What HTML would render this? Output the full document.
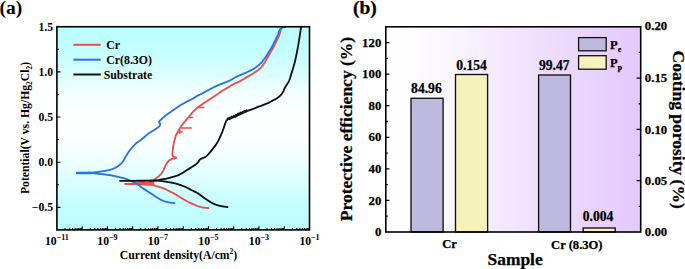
<!DOCTYPE html>
<html><head><meta charset="utf-8"><style>
html,body{margin:0;padding:0;background:#fff;}
svg{display:block;}
.pb text{stroke:#000;stroke-width:0.25px;}
</style></head><body>
<svg width="685" height="269" viewBox="0 0 685 269" font-family='"Liberation Serif", serif' font-weight="bold">
<defs>
<linearGradient id="ga" x1="0" y1="0" x2="0" y2="1">
<stop offset="0" stop-color="#bbfdff"/>
<stop offset="0.064" stop-color="#befdff"/>
<stop offset="0.113" stop-color="#c4feff"/>
<stop offset="0.163" stop-color="#ccfeff"/>
<stop offset="0.212" stop-color="#d5feff"/>
<stop offset="0.31" stop-color="#effffe"/>
<stop offset="0.409" stop-color="#fbffff"/>
<stop offset="0.483" stop-color="#ffffff"/>
<stop offset="0.606" stop-color="#f6ffff"/>
<stop offset="0.759" stop-color="#dbfeff"/>
<stop offset="0.867" stop-color="#c6fdff"/>
<stop offset="1" stop-color="#bbfcff"/>
</linearGradient>
<linearGradient id="gb" x1="0" y1="0" x2="1" y2="0">
<stop offset="0" stop-color="#ffffff"/>
<stop offset="0.1" stop-color="#fdfcff"/>
<stop offset="0.25" stop-color="#f9f6fe"/>
<stop offset="0.4" stop-color="#f5edfd"/>
<stop offset="0.6" stop-color="#eee0fd"/>
<stop offset="0.8" stop-color="#e9d4fd"/>
<stop offset="1" stop-color="#e4c8fe"/>
</linearGradient>
</defs>
<rect width="685" height="269" fill="#fff"/>
<rect x="56.9" y="26.75" width="252.6" height="203.15" fill="url(#ga)"/>
<clipPath id="ca"><rect x="56.9" y="26.75" width="252.6" height="203.15"/></clipPath>
<g clip-path="url(#ca)" fill="none" stroke-linecap="round" stroke-linejoin="round">
<path d="M125.1,184.0 L137.0,184.0" stroke="#ee4c4c" stroke-width="1.85"/>
<path d="M137,182.6 L141,181.9 L153.8,181.6 L153.8,185.4 L141,185 L137,185 Z" fill="#ee4c4c" stroke="#ee4c4c" stroke-width="0.8"/>
<path d="M153.50,180.50 L154.01,180.00 L154.51,179.51 L155.03,179.01 L155.60,178.50 L156.10,178.10 L156.64,177.71 L157.21,177.31 L157.78,176.90 L158.35,176.47 L158.90,176.00 L159.35,175.59 L159.80,175.16 L160.25,174.72 L160.69,174.26 L161.12,173.79 L161.54,173.31 L161.93,172.81 L162.30,172.30 L162.63,171.78 L162.93,171.23 L163.21,170.67 L163.47,170.10 L163.73,169.52 L163.98,168.94 L164.23,168.37 L164.50,167.80 L164.77,167.24 L165.04,166.67 L165.31,166.09 L165.57,165.52 L165.84,164.96 L166.12,164.41 L166.40,163.89 L166.70,163.40 L167.10,162.77 L167.51,162.16 L167.93,161.60 L168.39,161.07 L168.90,160.60 L169.40,160.24 L169.93,159.92 L170.51,159.64 L171.10,159.38 L171.70,159.13 L172.30,158.90 L173.01,158.69 L173.85,158.51 L174.70,158.35 L175.44,158.19 L175.98,158.01 L176.20,157.80 L176.01,157.57 L175.47,157.34 L174.74,157.09 L173.96,156.81 L173.27,156.49 L172.80,156.10 L172.52,155.49 L172.41,154.79 L172.39,154.05 L172.40,153.30 L172.42,152.67 L172.49,152.03 L172.59,151.38 L172.70,150.71 L172.80,150.00 L172.87,149.42 L172.93,148.82 L172.99,148.19 L173.06,147.55 L173.13,146.90 L173.21,146.25 L173.30,145.62 L173.40,145.00 L173.53,144.34 L173.68,143.69 L173.83,143.05 L174.00,142.41 L174.17,141.77 L174.34,141.13 L174.50,140.50 L174.65,139.87 L174.79,139.24 L174.93,138.62 L175.07,137.99 L175.23,137.38 L175.40,136.78 L175.60,136.20 L175.84,135.60 L176.12,135.01 L176.41,134.44 L176.71,133.88 L177.01,133.34 L177.30,132.80 L177.61,132.23 L177.92,131.68 L178.24,131.14 L178.56,130.58 L178.90,130.00 L179.20,129.47 L179.51,128.92 L179.83,128.35 L180.16,127.77 L180.49,127.20 L180.84,126.64 L181.20,126.10 L181.56,125.60 L181.94,125.12 L182.33,124.65 L182.72,124.19 L183.12,123.73 L183.51,123.26 L183.90,122.80 L184.33,122.27 L184.76,121.74 L185.19,121.21 L185.62,120.68 L186.06,120.14 L186.50,119.60 L186.91,119.10 L187.32,118.60 L187.74,118.10 L188.16,117.59 L188.59,117.08 L189.04,116.55 L189.50,116.00 L189.87,115.56 L190.24,115.11 L190.63,114.64 L191.02,114.17 L191.42,113.68 L191.82,113.20 L192.23,112.72 L192.65,112.24 L193.06,111.78 L193.48,111.33 L193.90,110.90 L194.38,110.43 L194.86,109.97 L195.35,109.53 L195.84,109.09 L196.34,108.67 L196.84,108.25 L197.35,107.83 L197.87,107.42 L198.40,107.00 L198.87,106.64 L199.35,106.28 L199.83,105.92 L200.32,105.57 L200.82,105.22 L201.32,104.87 L201.82,104.52 L202.34,104.17 L202.85,103.81 L203.37,103.46 L203.90,103.10 L204.39,102.77 L204.89,102.43 L205.40,102.09 L205.92,101.75 L206.44,101.41 L206.96,101.07 L207.49,100.73 L208.01,100.38 L208.54,100.04 L209.06,99.70 L209.58,99.37 L210.09,99.03 L210.60,98.70 L211.12,98.36 L211.64,98.02 L212.15,97.69 L212.67,97.35 L213.18,97.02 L213.69,96.69 L214.20,96.36 L214.70,96.03 L215.20,95.70 L215.70,95.37 L216.20,95.03 L216.70,94.70 L217.22,94.34 L217.73,93.99 L218.24,93.62 L218.75,93.26 L219.26,92.90 L219.76,92.54 L220.27,92.18 L220.77,91.83 L221.28,91.48 L221.79,91.13 L222.30,90.80 L222.85,90.45 L223.41,90.11 L223.97,89.77 L224.53,89.45 L225.10,89.12 L225.66,88.80 L226.22,88.48 L226.78,88.15 L227.34,87.83 L227.90,87.50 L228.45,87.17 L228.99,86.84 L229.53,86.50 L230.07,86.17 L230.61,85.83 L231.15,85.50 L231.70,85.17 L232.25,84.84 L232.82,84.52 L233.40,84.20 L233.94,83.92 L234.48,83.65 L235.04,83.39 L235.61,83.13 L236.18,82.87 L236.76,82.62 L237.34,82.36 L237.92,82.10 L238.49,81.84 L239.07,81.57 L239.64,81.29 L240.20,81.00 L240.77,80.70 L241.33,80.39 L241.89,80.07 L242.45,79.75 L243.01,79.42 L243.56,79.09 L244.12,78.76 L244.67,78.42 L245.23,78.09 L245.79,77.76 L246.34,77.43 L246.90,77.10 L247.46,76.78 L248.02,76.46 L248.58,76.15 L249.14,75.83 L249.70,75.52 L250.27,75.21 L250.83,74.89 L251.38,74.57 L251.94,74.24 L252.50,73.90 L253.05,73.56 L253.60,73.20 L254.13,72.85 L254.66,72.50 L255.20,72.14 L255.75,71.77 L256.29,71.40 L256.82,71.03 L257.35,70.65 L257.88,70.26 L258.39,69.86 L258.89,69.46 L259.38,69.05 L259.85,68.63 L260.30,68.20 L260.74,67.75 L261.17,67.29 L261.58,66.81 L261.99,66.33 L262.38,65.83 L262.76,65.33 L263.13,64.83 L263.48,64.33 L263.83,63.84 L264.16,63.35 L264.49,62.87 L264.80,62.40 L265.16,61.84 L265.50,61.29 L265.81,60.75 L266.10,60.21 L266.39,59.67 L266.68,59.13 L266.98,58.57 L267.30,58.00 L267.60,57.47 L267.91,56.92 L268.23,56.37 L268.55,55.81 L268.87,55.25 L269.20,54.68 L269.52,54.11 L269.85,53.54 L270.18,52.97 L270.50,52.40 L270.80,51.88 L271.10,51.35 L271.41,50.83 L271.72,50.30 L272.03,49.77 L272.33,49.24 L272.64,48.71 L272.94,48.18 L273.23,47.66 L273.52,47.13 L273.80,46.60 L274.09,46.04 L274.37,45.48 L274.65,44.91 L274.92,44.35 L275.19,43.78 L275.45,43.22 L275.72,42.66 L275.98,42.10 L276.24,41.55 L276.50,41.00 L276.78,40.43 L277.06,39.87 L277.34,39.32 L277.62,38.77 L277.89,38.22 L278.16,37.67 L278.42,37.12 L278.67,36.56 L278.90,36.00 L279.14,35.38 L279.36,34.75 L279.58,34.12 L279.78,33.48 L279.97,32.85 L280.15,32.23 L280.33,31.61 L280.50,31.00 L280.67,30.38 L280.82,29.78 L280.96,29.18 L281.09,28.58 L281.23,27.99 L281.36,27.40 L281.50,26.80" stroke="#ee4c4c" stroke-width="1.85"/>
<path d="M153.80,185.30 L154.39,185.48 L154.98,185.66 L155.57,185.84 L156.16,186.03 L156.76,186.21 L157.37,186.40 L158.00,186.60 L158.59,186.78 L159.19,186.96 L159.82,187.15 L160.45,187.33 L161.08,187.53 L161.72,187.73 L162.35,187.94 L162.98,188.16 L163.60,188.40 L164.16,188.63 L164.71,188.88 L165.26,189.14 L165.81,189.41 L166.36,189.69 L166.91,189.97 L167.45,190.26 L168.00,190.54 L168.55,190.82 L169.10,191.10 L169.66,191.37 L170.22,191.65 L170.78,191.92 L171.34,192.19 L171.91,192.46 L172.47,192.74 L173.03,193.02 L173.59,193.31 L174.14,193.60 L174.70,193.90 L175.27,194.22 L175.83,194.55 L176.39,194.88 L176.95,195.23 L177.51,195.57 L178.06,195.92 L178.62,196.27 L179.18,196.62 L179.74,196.96 L180.30,197.30 L180.86,197.64 L181.42,197.97 L181.98,198.31 L182.54,198.65 L183.10,198.98 L183.66,199.32 L184.22,199.64 L184.78,199.97 L185.34,200.29 L185.90,200.60 L186.45,200.90 L186.99,201.19 L187.53,201.48 L188.07,201.76 L188.61,202.04 L189.15,202.31 L189.70,202.59 L190.26,202.86 L190.83,203.13 L191.40,203.40 L191.98,203.67 L192.57,203.94 L193.17,204.22 L193.78,204.49 L194.40,204.77 L195.01,205.03 L195.63,205.29 L196.24,205.54 L196.84,205.78 L197.43,206.00 L198.00,206.20 L198.65,206.41 L199.28,206.61 L199.90,206.79 L200.52,206.96 L201.13,207.11 L201.74,207.25 L202.37,207.38 L203.00,207.50 L203.59,207.60 L204.18,207.68 L204.78,207.75 L205.38,207.82 L205.98,207.87 L206.59,207.93 L207.19,207.98 L207.80,208.04 L208.40,208.10" stroke="#ee4c4c" stroke-width="1.85"/>
<path d="M198.9,107.6 L203.9,107.6" stroke="#ee4c4c" stroke-width="1.5"/>
<path d="M188.9,117.6 L192.3,117.6" stroke="#ee4c4c" stroke-width="1.5"/>
<path d="M181.7,128.1 L191.2,128.1" stroke="#ee4c4c" stroke-width="1.5"/>
<path d="M90.00,173.00 L90.63,173.05 L91.25,173.10 L91.88,173.14 L92.50,173.19 L93.13,173.24 L93.75,173.29 L94.38,173.34 L95.00,173.40 L95.62,173.47 L96.24,173.54 L96.86,173.61 L97.47,173.69 L98.09,173.77 L98.72,173.85 L99.35,173.93 L100.00,174.00 L100.58,174.06 L101.16,174.12 L101.76,174.17 L102.36,174.23 L102.97,174.29 L103.57,174.34 L104.18,174.40 L104.79,174.46 L105.40,174.53 L106.00,174.60 L106.60,174.68 L107.19,174.75 L107.79,174.83 L108.38,174.91 L108.97,175.00 L109.57,175.09 L110.17,175.18 L110.77,175.28 L111.38,175.39 L112.00,175.50 L112.57,175.61 L113.16,175.73 L113.75,175.85 L114.35,175.98 L114.95,176.12 L115.56,176.26 L116.16,176.40 L116.76,176.54 L117.36,176.68 L117.95,176.82 L118.53,176.96 L119.10,177.10 L119.71,177.25 L120.32,177.39 L120.92,177.53 L121.52,177.67 L122.11,177.81 L122.70,177.96 L123.28,178.11 L123.86,178.26 L124.43,178.43 L125.00,178.60 L125.60,178.79 L126.19,178.99 L126.78,179.20 L127.36,179.41 L127.93,179.63 L128.51,179.86 L129.10,180.10 L129.69,180.34 L130.30,180.60 L130.83,180.82 L131.38,181.06 L131.94,181.29 L132.51,181.53 L133.09,181.78 L133.66,182.04 L134.23,182.30 L134.80,182.57 L135.35,182.84 L135.89,183.12 L136.40,183.41 L136.90,183.70 L137.45,184.06 L137.98,184.43 L138.48,184.82 L138.97,185.22 L139.45,185.62 L139.93,186.02 L140.40,186.42 L140.89,186.81 L141.40,187.20 L141.93,187.59 L142.47,187.97 L143.01,188.36 L143.56,188.74 L144.10,189.12 L144.65,189.50 L145.20,189.87 L145.75,190.24 L146.30,190.60 L146.83,190.94 L147.36,191.28 L147.89,191.61 L148.41,191.93 L148.94,192.26 L149.47,192.58 L150.01,192.91 L150.55,193.25 L151.10,193.60 L151.59,193.92 L152.09,194.25 L152.60,194.59 L153.10,194.93 L153.61,195.28 L154.12,195.63 L154.64,195.97 L155.15,196.32 L155.67,196.65 L156.18,196.98 L156.70,197.30 L157.25,197.64 L157.81,197.97 L158.36,198.31 L158.92,198.64 L159.48,198.96 L160.04,199.27 L160.60,199.58 L161.16,199.87 L161.73,200.14 L162.30,200.40 L162.91,200.66 L163.52,200.89 L164.13,201.12 L164.74,201.33 L165.36,201.53 L165.98,201.71 L166.61,201.88 L167.25,202.05 L167.90,202.20 L168.48,202.32 L169.06,202.43 L169.65,202.52 L170.25,202.60 L170.86,202.68 L171.46,202.75 L172.07,202.82 L172.68,202.88 L173.29,202.95 L173.90,203.02 L174.50,203.10" stroke="#2a74dc" stroke-width="1.85"/>
<path d="M77.00,173.00 L77.62,172.99 L78.24,172.98 L78.87,172.97 L79.51,172.96 L80.15,172.96 L80.79,172.95 L81.43,172.94 L82.07,172.93 L82.71,172.92 L83.34,172.92 L83.96,172.91 L84.58,172.90 L85.18,172.88 L85.78,172.87 L86.36,172.86 L86.92,172.84 L87.47,172.82 L88.00,172.80 L88.67,172.77 L89.32,172.74 L89.93,172.71 L90.53,172.67 L91.11,172.63 L91.69,172.59 L92.26,172.55 L92.83,172.50 L93.41,172.45 L94.00,172.40 L94.60,172.34 L95.20,172.28 L95.80,172.22 L96.40,172.16 L97.00,172.09 L97.60,172.02 L98.20,171.94 L98.80,171.86 L99.40,171.78 L100.00,171.70 L100.61,171.61 L101.22,171.52 L101.84,171.43 L102.46,171.33 L103.08,171.23 L103.69,171.12 L104.29,171.02 L104.88,170.91 L105.45,170.81 L106.00,170.70 L106.71,170.56 L107.37,170.44 L108.02,170.31 L108.66,170.16 L109.31,170.00 L110.00,169.80 L110.53,169.63 L111.08,169.46 L111.65,169.26 L112.22,169.06 L112.80,168.84 L113.39,168.62 L113.96,168.38 L114.52,168.13 L115.07,167.87 L115.60,167.60 L116.14,167.30 L116.68,166.98 L117.21,166.65 L117.73,166.30 L118.24,165.95 L118.73,165.59 L119.21,165.22 L119.67,164.86 L120.10,164.50 L120.61,164.05 L121.09,163.61 L121.55,163.16 L121.98,162.70 L122.39,162.21 L122.80,161.70 L123.16,161.19 L123.51,160.65 L123.83,160.09 L124.15,159.52 L124.47,158.94 L124.78,158.37 L125.10,157.80 L125.41,157.24 L125.72,156.68 L126.02,156.12 L126.33,155.56 L126.64,155.01 L126.96,154.45 L127.30,153.90 L127.62,153.40 L127.95,152.91 L128.29,152.42 L128.64,151.93 L129.00,151.45 L129.36,150.96 L129.73,150.48 L130.10,150.00 L130.49,149.50 L130.89,149.00 L131.30,148.51 L131.71,148.01 L132.13,147.52 L132.55,147.04 L132.97,146.56 L133.40,146.10 L133.87,145.60 L134.35,145.10 L134.83,144.61 L135.32,144.13 L135.81,143.66 L136.30,143.22 L136.80,142.80 L137.33,142.39 L137.88,142.01 L138.42,141.65 L138.96,141.31 L139.49,140.96 L140.00,140.60 L140.51,140.22 L140.97,139.85 L141.44,139.47 L141.93,139.07 L142.50,138.60 L142.88,138.29 L143.28,137.94 L143.71,137.57 L144.16,137.18 L144.64,136.77 L145.12,136.35 L145.62,135.92 L146.12,135.48 L146.63,135.05 L147.14,134.63 L147.64,134.21 L148.14,133.82 L148.63,133.45 L149.10,133.10 L149.67,132.71 L150.25,132.33 L150.83,131.98 L151.40,131.64 L151.98,131.31 L152.55,130.99 L153.11,130.67 L153.65,130.35 L154.19,130.03 L154.70,129.70 L155.24,129.35 L155.78,129.00 L156.31,128.65 L156.82,128.30 L157.31,127.95 L157.78,127.60 L158.21,127.25 L158.60,126.90 L159.17,126.35 L159.69,125.80 L160.09,125.24 L160.30,124.70 L160.24,124.11 L159.99,123.53 L159.70,123.00 L159.21,122.44 L158.90,121.90 L159.13,121.41 L159.66,120.89 L160.30,120.30 L160.65,119.95 L161.04,119.57 L161.48,119.17 L161.94,118.74 L162.43,118.30 L162.94,117.85 L163.45,117.40 L163.97,116.95 L164.49,116.52 L165.00,116.10 L165.48,115.71 L165.98,115.33 L166.48,114.96 L166.99,114.58 L167.50,114.21 L168.02,113.84 L168.54,113.47 L169.06,113.10 L169.57,112.73 L170.09,112.37 L170.60,112.00 L171.10,111.64 L171.60,111.28 L172.10,110.92 L172.60,110.56 L173.09,110.20 L173.59,109.85 L174.09,109.49 L174.59,109.14 L175.09,108.79 L175.59,108.44 L176.10,108.10 L176.60,107.76 L177.11,107.42 L177.61,107.09 L178.12,106.75 L178.63,106.42 L179.14,106.09 L179.65,105.76 L180.16,105.44 L180.67,105.12 L181.19,104.81 L181.70,104.50 L182.26,104.17 L182.81,103.85 L183.37,103.53 L183.93,103.22 L184.49,102.91 L185.05,102.60 L185.61,102.30 L186.17,102.00 L186.74,101.70 L187.30,101.40 L187.86,101.11 L188.42,100.83 L188.98,100.56 L189.54,100.29 L190.11,100.02 L190.67,99.75 L191.23,99.47 L191.79,99.19 L192.35,98.90 L192.90,98.60 L193.47,98.27 L194.06,97.91 L194.66,97.54 L195.27,97.15 L195.86,96.77 L196.44,96.39 L196.99,96.04 L197.51,95.72 L197.98,95.43 L198.40,95.20 L199.20,94.84 L200.00,94.50 L200.42,94.29 L200.91,94.05 L201.44,93.78 L202.00,93.49 L202.60,93.19 L203.20,92.87 L203.82,92.54 L204.43,92.22 L205.03,91.90 L205.60,91.60 L206.15,91.30 L206.70,91.00 L207.25,90.70 L207.80,90.40 L208.35,90.09 L208.90,89.79 L209.45,89.49 L209.99,89.19 L210.55,88.89 L211.10,88.60 L211.66,88.31 L212.21,88.02 L212.77,87.73 L213.33,87.44 L213.89,87.15 L214.45,86.87 L215.01,86.59 L215.57,86.32 L216.13,86.06 L216.70,85.80 L217.26,85.56 L217.81,85.33 L218.37,85.10 L218.93,84.88 L219.49,84.67 L220.05,84.45 L220.62,84.24 L221.18,84.03 L221.74,83.82 L222.30,83.60 L222.87,83.38 L223.45,83.16 L224.03,82.94 L224.62,82.72 L225.20,82.50 L225.77,82.28 L226.34,82.06 L226.88,81.84 L227.40,81.62 L227.90,81.40 L228.51,81.12 L229.07,80.84 L229.61,80.56 L230.14,80.28 L230.66,79.99 L231.20,79.70 L231.75,79.39 L232.30,79.08 L232.84,78.75 L233.39,78.43 L233.94,78.11 L234.50,77.80 L235.06,77.49 L235.62,77.19 L236.18,76.89 L236.76,76.60 L237.36,76.30 L238.00,76.00 L238.50,75.77 L239.03,75.55 L239.58,75.32 L240.14,75.10 L240.72,74.87 L241.30,74.64 L241.88,74.41 L242.46,74.17 L243.04,73.94 L243.60,73.70 L244.15,73.46 L244.71,73.22 L245.26,72.98 L245.81,72.73 L246.36,72.49 L246.91,72.24 L247.46,71.99 L248.00,71.73 L248.55,71.47 L249.10,71.20 L249.66,70.92 L250.23,70.65 L250.79,70.37 L251.36,70.09 L251.92,69.80 L252.49,69.51 L253.05,69.20 L253.60,68.88 L254.15,68.55 L254.70,68.20 L255.23,67.85 L255.76,67.48 L256.28,67.10 L256.81,66.71 L257.33,66.30 L257.85,65.89 L258.36,65.47 L258.86,65.04 L259.35,64.60 L259.83,64.15 L260.30,63.70 L260.75,63.24 L261.19,62.77 L261.62,62.28 L262.05,61.79 L262.46,61.29 L262.86,60.78 L263.26,60.27 L263.65,59.75 L264.04,59.23 L264.42,58.72 L264.80,58.20 L265.16,57.69 L265.52,57.19 L265.86,56.68 L266.20,56.16 L266.53,55.65 L266.86,55.13 L267.19,54.61 L267.52,54.09 L267.84,53.56 L268.17,53.03 L268.50,52.50 L268.81,51.99 L269.13,51.48 L269.45,50.97 L269.77,50.45 L270.09,49.93 L270.40,49.41 L270.72,48.89 L271.02,48.36 L271.33,47.84 L271.63,47.33 L271.92,46.81 L272.20,46.30 L272.51,45.73 L272.80,45.17 L273.09,44.61 L273.36,44.05 L273.64,43.49 L273.91,42.93 L274.18,42.37 L274.45,41.82 L274.72,41.26 L275.00,40.70 L275.28,40.14 L275.58,39.57 L275.87,39.00 L276.17,38.44 L276.46,37.87 L276.75,37.31 L277.04,36.74 L277.31,36.19 L277.56,35.64 L277.80,35.10 L278.07,34.42 L278.31,33.73 L278.52,33.04 L278.73,32.36 L278.94,31.72 L279.16,31.13 L279.40,30.60 L279.80,29.86 L280.22,29.24 L280.70,28.70 L281.24,28.26 L281.84,27.89 L282.50,27.60 L283.13,27.42 L283.81,27.30 L284.51,27.21 L285.20,27.10" stroke="#2a74dc" stroke-width="1.85"/>
<path d="M77,173 L91,172.9" stroke="#2a74dc" stroke-width="2.5"/>
<path d="M120.00,180.80 L120.60,180.80 L121.20,180.80 L121.80,180.80 L122.40,180.80 L123.00,180.80 L123.60,180.80 L124.20,180.81 L124.80,180.81 L125.40,180.81 L126.00,180.81 L126.60,180.81 L127.20,180.81 L127.80,180.81 L128.40,180.81 L129.00,180.81 L129.60,180.81 L130.20,180.81 L130.80,180.81 L131.40,180.81 L132.00,180.81 L132.60,180.81 L133.20,180.81 L133.80,180.81 L134.40,180.80 L135.00,180.80 L135.60,180.80 L136.21,180.79 L136.83,180.79 L137.45,180.78 L138.07,180.78 L138.70,180.77 L139.33,180.77 L139.96,180.76 L140.59,180.75 L141.22,180.75 L141.85,180.74 L142.48,180.73 L143.10,180.72 L143.72,180.72 L144.34,180.71 L144.95,180.70 L145.55,180.69 L146.14,180.68 L146.72,180.67 L147.30,180.66 L147.86,180.65 L148.42,180.64 L148.96,180.62 L149.49,180.61 L150.00,180.60 L150.71,180.58 L151.41,180.57 L152.09,180.56 L152.77,180.56 L153.43,180.55 L154.08,180.54 L154.70,180.53 L155.31,180.51 L155.90,180.48 L156.46,180.45 L157.00,180.41 L157.52,180.36 L158.00,180.30 L158.70,180.17 L159.30,180.01 L159.86,179.84 L160.44,179.66 L161.10,179.50 L161.65,179.40 L162.23,179.30 L162.83,179.21 L163.46,179.12 L164.10,179.04 L164.75,178.94 L165.41,178.84 L166.06,178.73 L166.70,178.60 L167.31,178.46 L167.94,178.31 L168.57,178.15 L169.20,177.98 L169.83,177.80 L170.46,177.62 L171.09,177.44 L171.71,177.26 L172.31,177.08 L172.90,176.90 L173.54,176.71 L174.17,176.52 L174.79,176.34 L175.40,176.16 L176.00,175.96 L176.60,175.76 L177.20,175.54 L177.80,175.30 L178.35,175.06 L178.90,174.81 L179.45,174.55 L180.00,174.28 L180.54,174.00 L181.08,173.71 L181.62,173.41 L182.16,173.11 L182.70,172.80 L183.25,172.47 L183.80,172.13 L184.34,171.77 L184.89,171.41 L185.43,171.04 L185.97,170.68 L186.51,170.31 L187.05,169.95 L187.60,169.60 L188.15,169.26 L188.70,168.92 L189.25,168.59 L189.80,168.26 L190.36,167.93 L190.90,167.60 L191.45,167.27 L191.98,166.94 L192.50,166.60 L193.05,166.24 L193.60,165.88 L194.15,165.51 L194.69,165.14 L195.21,164.77 L195.71,164.41 L196.18,164.05 L196.60,163.70 L197.16,163.19 L197.65,162.70 L198.10,162.21 L198.50,161.70 L198.88,161.05 L199.20,160.38 L199.60,159.80 L200.15,159.35 L200.78,158.98 L201.50,158.60 L201.99,158.37 L202.54,158.14 L203.12,157.92 L203.73,157.69 L204.32,157.45 L204.89,157.19 L205.40,156.90 L205.97,156.51 L206.48,156.09 L206.97,155.64 L207.47,155.15 L208.00,154.60 L208.37,154.22 L208.75,153.80 L209.14,153.37 L209.54,152.91 L209.95,152.43 L210.36,151.94 L210.77,151.43 L211.19,150.93 L211.60,150.41 L212.00,149.90 L212.40,149.40 L212.78,148.91 L213.17,148.42 L213.56,147.92 L213.95,147.42 L214.33,146.91 L214.72,146.40 L215.10,145.88 L215.47,145.36 L215.84,144.83 L216.21,144.29 L216.56,143.75 L216.90,143.20 L217.22,142.66 L217.53,142.12 L217.84,141.56 L218.13,141.00 L218.43,140.43 L218.71,139.86 L218.99,139.28 L219.27,138.70 L219.54,138.12 L219.81,137.54 L220.08,136.96 L220.34,136.38 L220.60,135.80 L220.85,135.23 L221.10,134.66 L221.35,134.09 L221.59,133.52 L221.83,132.94 L222.06,132.37 L222.30,131.80 L222.52,131.22 L222.75,130.65 L222.96,130.08 L223.18,129.52 L223.39,128.96 L223.60,128.40 L223.82,127.78 L224.03,127.15 L224.23,126.50 L224.43,125.86 L224.62,125.22 L224.81,124.59 L225.00,123.98 L225.20,123.40 L225.39,122.85 L225.59,122.35 L225.80,121.90 L226.14,121.23 L226.47,120.66 L226.84,120.15 L227.30,119.70 L227.80,119.35 L228.37,119.06 L228.99,118.81 L229.64,118.56 L230.30,118.30 L230.89,118.06 L231.52,117.81 L232.17,117.57 L232.82,117.33 L233.48,117.08 L234.11,116.84 L234.70,116.60 L235.34,116.33 L235.93,116.07 L236.51,115.80 L237.12,115.52 L237.80,115.20 L238.26,114.98 L238.75,114.75 L239.27,114.49 L239.80,114.23 L240.36,113.95 L240.92,113.68 L241.49,113.40 L242.07,113.12 L242.64,112.84 L243.21,112.58 L243.76,112.33 L244.30,112.10 L244.88,111.86 L245.46,111.63 L246.04,111.41 L246.62,111.20 L247.19,110.99 L247.76,110.79 L248.33,110.59 L248.89,110.40 L249.45,110.20 L250.00,110.00 L250.65,109.77 L251.30,109.54 L251.96,109.31 L252.60,109.08 L253.24,108.86 L253.85,108.64 L254.44,108.42 L255.00,108.20 L255.64,107.94 L256.22,107.68 L256.78,107.42 L257.36,107.17 L258.00,106.90 L258.55,106.68 L259.14,106.47 L259.75,106.25 L260.37,106.02 L261.01,105.80 L261.65,105.57 L262.28,105.34 L262.90,105.10 L263.51,104.86 L264.13,104.62 L264.74,104.38 L265.36,104.14 L265.97,103.89 L266.58,103.64 L267.19,103.37 L267.80,103.10 L268.35,102.84 L268.90,102.58 L269.44,102.31 L269.99,102.04 L270.53,101.75 L271.07,101.47 L271.62,101.18 L272.16,100.89 L272.70,100.60 L273.25,100.30 L273.82,100.00 L274.39,99.70 L274.95,99.40 L275.51,99.09 L276.07,98.78 L276.60,98.46 L277.11,98.13 L277.60,97.80 L278.12,97.42 L278.61,97.05 L279.08,96.66 L279.54,96.27 L279.97,95.86 L280.39,95.44 L280.80,95.00 L281.19,94.54 L281.56,94.06 L281.91,93.57 L282.25,93.07 L282.58,92.55 L282.89,92.03 L283.20,91.50 L283.49,90.95 L283.76,90.39 L284.00,89.82 L284.25,89.24 L284.50,88.64 L284.78,88.03 L285.10,87.40 L285.37,86.91 L285.67,86.41 L285.99,85.89 L286.33,85.37 L286.68,84.84 L287.04,84.30 L287.39,83.75 L287.74,83.19 L288.08,82.63 L288.41,82.06 L288.72,81.48 L289.00,80.90 L289.25,80.33 L289.49,79.74 L289.71,79.14 L289.93,78.53 L290.13,77.91 L290.33,77.29 L290.51,76.66 L290.70,76.03 L290.88,75.41 L291.06,74.79 L291.24,74.19 L291.42,73.59 L291.60,73.00 L291.80,72.39 L291.99,71.78 L292.18,71.18 L292.36,70.59 L292.55,70.01 L292.73,69.42 L292.91,68.84 L293.08,68.26 L293.26,67.68 L293.43,67.09 L293.60,66.50 L293.76,65.92 L293.92,65.35 L294.08,64.79 L294.23,64.23 L294.38,63.67 L294.53,63.11 L294.68,62.53 L294.83,61.94 L294.99,61.32 L295.14,60.68 L295.30,60.00 L295.42,59.48 L295.54,58.94 L295.66,58.39 L295.79,57.81 L295.92,57.22 L296.04,56.62 L296.17,56.00 L296.30,55.38 L296.43,54.74 L296.56,54.11 L296.69,53.46 L296.82,52.82 L296.95,52.17 L297.08,51.52 L297.20,50.88 L297.33,50.24 L297.45,49.61 L297.56,48.99 L297.68,48.38 L297.79,47.78 L297.90,47.20 L298.02,46.57 L298.13,45.95 L298.24,45.33 L298.34,44.72 L298.45,44.12 L298.55,43.52 L298.65,42.92 L298.75,42.33 L298.85,41.74 L298.94,41.15 L299.04,40.56 L299.13,39.97 L299.23,39.38 L299.32,38.79 L299.41,38.20 L299.51,37.60 L299.60,37.00 L299.69,36.40 L299.79,35.79 L299.88,35.19 L299.97,34.58 L300.06,33.98 L300.14,33.37 L300.23,32.76 L300.32,32.16 L300.41,31.55 L300.49,30.94 L300.58,30.34 L300.67,29.73 L300.75,29.12 L300.84,28.52 L300.92,27.91 L301.01,27.31 L301.10,26.70" stroke="#111" stroke-width="1.85"/>
<path d="M150.00,180.70 L150.62,180.70 L151.25,180.69 L151.88,180.68 L152.51,180.67 L153.14,180.66 L153.77,180.66 L154.40,180.65 L155.03,180.64 L155.64,180.64 L156.25,180.65 L156.85,180.66 L157.43,180.67 L158.00,180.70 L158.67,180.74 L159.31,180.79 L159.94,180.85 L160.56,180.91 L161.17,180.98 L161.78,181.06 L162.38,181.14 L162.99,181.22 L163.60,181.30 L164.21,181.39 L164.83,181.48 L165.44,181.57 L166.05,181.67 L166.66,181.77 L167.27,181.88 L167.88,181.98 L168.49,182.09 L169.10,182.20 L169.72,182.31 L170.34,182.42 L170.97,182.53 L171.59,182.64 L172.21,182.76 L172.84,182.88 L173.46,183.01 L174.08,183.15 L174.70,183.30 L175.33,183.46 L175.95,183.63 L176.57,183.81 L177.20,183.99 L177.82,184.18 L178.44,184.38 L179.06,184.58 L179.68,184.79 L180.30,185.00 L180.86,185.20 L181.43,185.40 L181.99,185.61 L182.55,185.82 L183.12,186.03 L183.68,186.26 L184.23,186.48 L184.79,186.72 L185.35,186.96 L185.90,187.20 L186.45,187.46 L187.00,187.72 L187.55,187.99 L188.09,188.26 L188.63,188.55 L189.17,188.83 L189.72,189.12 L190.27,189.41 L190.83,189.71 L191.40,190.00 L191.93,190.27 L192.47,190.53 L193.01,190.79 L193.56,191.06 L194.11,191.33 L194.67,191.60 L195.23,191.87 L195.78,192.16 L196.34,192.45 L196.90,192.75 L197.45,193.07 L198.00,193.40 L198.51,193.72 L199.01,194.06 L199.51,194.42 L200.01,194.78 L200.51,195.16 L201.01,195.54 L201.51,195.93 L202.01,196.32 L202.51,196.71 L203.02,197.10 L203.53,197.49 L204.05,197.87 L204.57,198.24 L205.10,198.60 L205.60,198.93 L206.10,199.26 L206.61,199.60 L207.13,199.94 L207.65,200.28 L208.17,200.62 L208.70,200.95 L209.23,201.28 L209.76,201.61 L210.29,201.93 L210.81,202.24 L211.34,202.54 L211.86,202.82 L212.38,203.10 L212.89,203.36 L213.40,203.60 L214.02,203.88 L214.63,204.14 L215.24,204.39 L215.84,204.62 L216.44,204.83 L217.04,205.03 L217.64,205.22 L218.24,205.40 L218.85,205.57 L219.47,205.74 L220.10,205.90 L220.70,206.04 L221.32,206.17 L221.93,206.28 L222.56,206.39 L223.18,206.49 L223.81,206.58 L224.45,206.66 L225.08,206.74 L225.71,206.83 L226.34,206.91 L226.97,207.00 L227.60,207.10" stroke="#111" stroke-width="1.85"/>
<path d="M227.8,118.6 L229.2,119.1 L229.6,117.7 L230.9,118.3 L231.6,116.7 L233.0,117.2 L233.8,116.1 L235.5,116.6 L236.1,114.9 L237.6,115.2 L238.2,113.6 L239.8,114.4 L240.4,112.7 L242.1,113.4 L242.6,111.7 L244.2,112.1 L244.6,110.7 L246.1,111.5 L246.7,110.4" stroke="#111" stroke-width="2.1"/>
<path d="M178.5,130 L182.5,131.8 L179.5,133.5 Z" fill="#ee4c4c" stroke="#ee4c4c" stroke-width="0.8"/>
</g>
<rect x="56.9" y="26.75" width="252.6" height="203.15" fill="none" stroke="#000" stroke-width="1.6"/>
<path d="M65.00,229.9 v-2 M69.45,229.9 v-2 M72.61,229.9 v-2 M75.06,229.9 v-2 M77.06,229.9 v-2 M78.75,229.9 v-2 M80.21,229.9 v-2 M81.50,229.9 v-2 M82.16,229.9 v-3.6 M90.26,229.9 v-2 M94.71,229.9 v-2 M97.87,229.9 v-2 M100.32,229.9 v-2 M102.32,229.9 v-2 M104.01,229.9 v-2 M105.47,229.9 v-2 M106.76,229.9 v-2 M107.42,229.9 v-3.6 M115.52,229.9 v-2 M119.97,229.9 v-2 M123.13,229.9 v-2 M125.58,229.9 v-2 M127.58,229.9 v-2 M129.27,229.9 v-2 M130.73,229.9 v-2 M132.02,229.9 v-2 M132.68,229.9 v-3.6 M140.78,229.9 v-2 M145.23,229.9 v-2 M148.39,229.9 v-2 M150.84,229.9 v-2 M152.84,229.9 v-2 M154.53,229.9 v-2 M155.99,229.9 v-2 M157.28,229.9 v-2 M157.94,229.9 v-3.6 M166.04,229.9 v-2 M170.49,229.9 v-2 M173.65,229.9 v-2 M176.10,229.9 v-2 M178.10,229.9 v-2 M179.79,229.9 v-2 M181.25,229.9 v-2 M182.54,229.9 v-2 M183.20,229.9 v-3.6 M191.30,229.9 v-2 M195.75,229.9 v-2 M198.91,229.9 v-2 M201.36,229.9 v-2 M203.36,229.9 v-2 M205.05,229.9 v-2 M206.51,229.9 v-2 M207.80,229.9 v-2 M208.46,229.9 v-3.6 M216.56,229.9 v-2 M221.01,229.9 v-2 M224.17,229.9 v-2 M226.62,229.9 v-2 M228.62,229.9 v-2 M230.31,229.9 v-2 M231.77,229.9 v-2 M233.06,229.9 v-2 M233.72,229.9 v-3.6 M241.82,229.9 v-2 M246.27,229.9 v-2 M249.43,229.9 v-2 M251.88,229.9 v-2 M253.88,229.9 v-2 M255.57,229.9 v-2 M257.03,229.9 v-2 M258.32,229.9 v-2 M258.98,229.9 v-3.6 M267.08,229.9 v-2 M271.53,229.9 v-2 M274.69,229.9 v-2 M277.14,229.9 v-2 M279.14,229.9 v-2 M280.83,229.9 v-2 M282.29,229.9 v-2 M283.58,229.9 v-2 M284.24,229.9 v-3.6 M292.34,229.9 v-2 M296.79,229.9 v-2 M299.95,229.9 v-2 M302.40,229.9 v-2 M304.40,229.9 v-2 M306.09,229.9 v-2 M307.55,229.9 v-2 M308.84,229.9 v-2 M56.9,207.33 h3.6 M56.9,184.76 h2 M56.9,162.18 h3.6 M56.9,139.61 h2 M56.9,117.04 h3.6 M56.9,94.47 h2 M56.9,71.89 h3.6 M56.9,49.32 h2" stroke="#000" stroke-width="1.1" fill="none"/>
<text x="53" y="30.65" font-size="11.7" text-anchor="end">1.5</text>
<text x="53" y="75.79" font-size="11.7" text-anchor="end">1.0</text>
<text x="53" y="120.94" font-size="11.7" text-anchor="end">0.5</text>
<text x="53" y="166.08" font-size="11.7" text-anchor="end">0.0</text>
<text x="53" y="211.23" font-size="11.7" text-anchor="end">−0.5</text>
<text x="56.90" y="244.6" font-size="11.7" text-anchor="middle">10<tspan font-size="8" dy="-4.6">−11</tspan></text>
<text x="107.42" y="244.6" font-size="11.7" text-anchor="middle">10<tspan font-size="8" dy="-4.6">−9</tspan></text>
<text x="157.94" y="244.6" font-size="11.7" text-anchor="middle">10<tspan font-size="8" dy="-4.6">−7</tspan></text>
<text x="208.46" y="244.6" font-size="11.7" text-anchor="middle">10<tspan font-size="8" dy="-4.6">−5</tspan></text>
<text x="258.98" y="244.6" font-size="11.7" text-anchor="middle">10<tspan font-size="8" dy="-4.6">−3</tspan></text>
<text x="309.50" y="244.6" font-size="11.7" text-anchor="middle">10<tspan font-size="8" dy="-4.6">−1</tspan></text>
<text x="178.5" y="258.6" font-size="11.7" text-anchor="middle">Current density(A/cm<tspan font-size="7.5" dy="-4.5">2</tspan><tspan dy="4.5">)</tspan></text>
<text transform="translate(28.6,128) rotate(-90)" font-size="11.7" text-anchor="middle">Potential(V vs. Hg/Hg<tspan font-size="7.4" dy="3.4">2</tspan><tspan dy="-3.4">Cl</tspan><tspan font-size="7.4" dy="3.4">2</tspan><tspan dy="-3.4">)</tspan></text>
<path d="M73.4,44.8 H100.7" stroke="#ee4c4c" stroke-width="2"/>
<text x="106.3" y="48.9" font-size="11.8">Cr</text>
<path d="M73.4,59.7 H100.7" stroke="#2a74dc" stroke-width="2"/>
<text x="106.3" y="63.8" font-size="11.8">Cr(8.3O)</text>
<path d="M73.4,74.5 H100.7" stroke="#111" stroke-width="2"/>
<text x="103.7" y="78.6" font-size="11.8">Substrate</text>
<text x="-0.6" y="13.8" font-size="19.5">(a)</text>
<g class="pb">
<rect x="385.8" y="26.8" width="254.90000000000003" height="205.2" fill="url(#gb)"/>
<rect x="411.0" y="98.29" width="32.10" height="133.71" fill="#bdb9df" stroke="#111" stroke-width="1.35"/>
<rect x="455.5" y="74.50" width="32.10" height="157.50" fill="#f5f2bc" stroke="#111" stroke-width="1.35"/>
<rect x="538.6" y="74.99" width="31.90" height="157.01" fill="#bdb9df" stroke="#111" stroke-width="1.35"/>
<rect x="583.2" y="228.00" width="32.00" height="4.00" fill="#f5f2bc" stroke="#111" stroke-width="1.35"/>
<text x="426.4" y="92.6" font-size="13.6" text-anchor="middle">84.96</text>
<text x="471.6" y="70.2" font-size="13.6" text-anchor="middle">0.154</text>
<text x="554.3" y="69.7" font-size="13.6" text-anchor="middle">99.47</text>
<text x="598.1" y="220.9" font-size="13.6" text-anchor="middle">0.004</text>
<rect x="578.6" y="37.6" width="27.6" height="13.2" fill="#bdb9df" stroke="#111" stroke-width="1.3"/>
<rect x="578.6" y="55.7" width="27.6" height="13.5" fill="#f5f2bc" stroke="#111" stroke-width="1.3"/>
<text x="610" y="48.7" font-size="12.5">P<tspan font-size="7.8" dy="3.3">e</tspan></text>
<text x="610" y="67.1" font-size="12.5">P<tspan font-size="7.8" dy="3.3">p</tspan></text>
<rect x="385.8" y="26.8" width="254.90000000000003" height="205.2" fill="none" stroke="#000" stroke-width="1.6"/>
<path d="M385.8,216.22 h2 M385.8,200.43 h3.6 M385.8,184.65 h2 M385.8,168.86 h3.6 M385.8,153.08 h2 M385.8,137.29 h3.6 M385.8,121.51 h2 M385.8,105.72 h3.6 M385.8,89.94 h2 M385.8,74.15 h3.6 M385.8,58.37 h2 M385.8,42.58 h3.6 M640.7,206.35 h-2 M640.7,180.70 h-4.2 M640.7,155.05 h-2 M640.7,129.40 h-4.2 M640.7,103.75 h-2 M640.7,78.10 h-4.2 M640.7,52.45 h-2" stroke="#000" stroke-width="1.3" fill="none"/>
<text x="381.3" y="236.20" font-size="12.8" text-anchor="end">0</text>
<text x="381.3" y="204.63" font-size="12.8" text-anchor="end">20</text>
<text x="381.3" y="173.06" font-size="12.8" text-anchor="end">40</text>
<text x="381.3" y="141.49" font-size="12.8" text-anchor="end">60</text>
<text x="381.3" y="109.92" font-size="12.8" text-anchor="end">80</text>
<text x="381.3" y="78.35" font-size="12.8" text-anchor="end">100</text>
<text x="381.3" y="46.78" font-size="12.8" text-anchor="end">120</text>
<text x="644.8" y="236.20" font-size="12.8">0.00</text>
<text x="644.8" y="184.90" font-size="12.8">0.05</text>
<text x="644.8" y="133.60" font-size="12.8">0.10</text>
<text x="644.8" y="82.30" font-size="12.8">0.15</text>
<text x="644.8" y="30.40" font-size="12.8">0.20</text>
<text x="449.6" y="248.4" font-size="12.6" text-anchor="middle">Cr</text>
<text x="576.8" y="249.1" font-size="12.6" text-anchor="middle">Cr (8.3O)</text>
<text x="515.1" y="265.1" font-size="17.4" text-anchor="middle">Sample</text>
<text transform="translate(351.9,129) rotate(-90)" font-size="17.5" text-anchor="middle">Protective efficiency (%)</text>
<text transform="translate(672.7,129.7) rotate(90)" font-size="17.5" text-anchor="middle">Coating porosity (%)</text>
<text x="352.9" y="13.8" font-size="19.5">(b)</text>
</g>
</svg>
</body></html>
